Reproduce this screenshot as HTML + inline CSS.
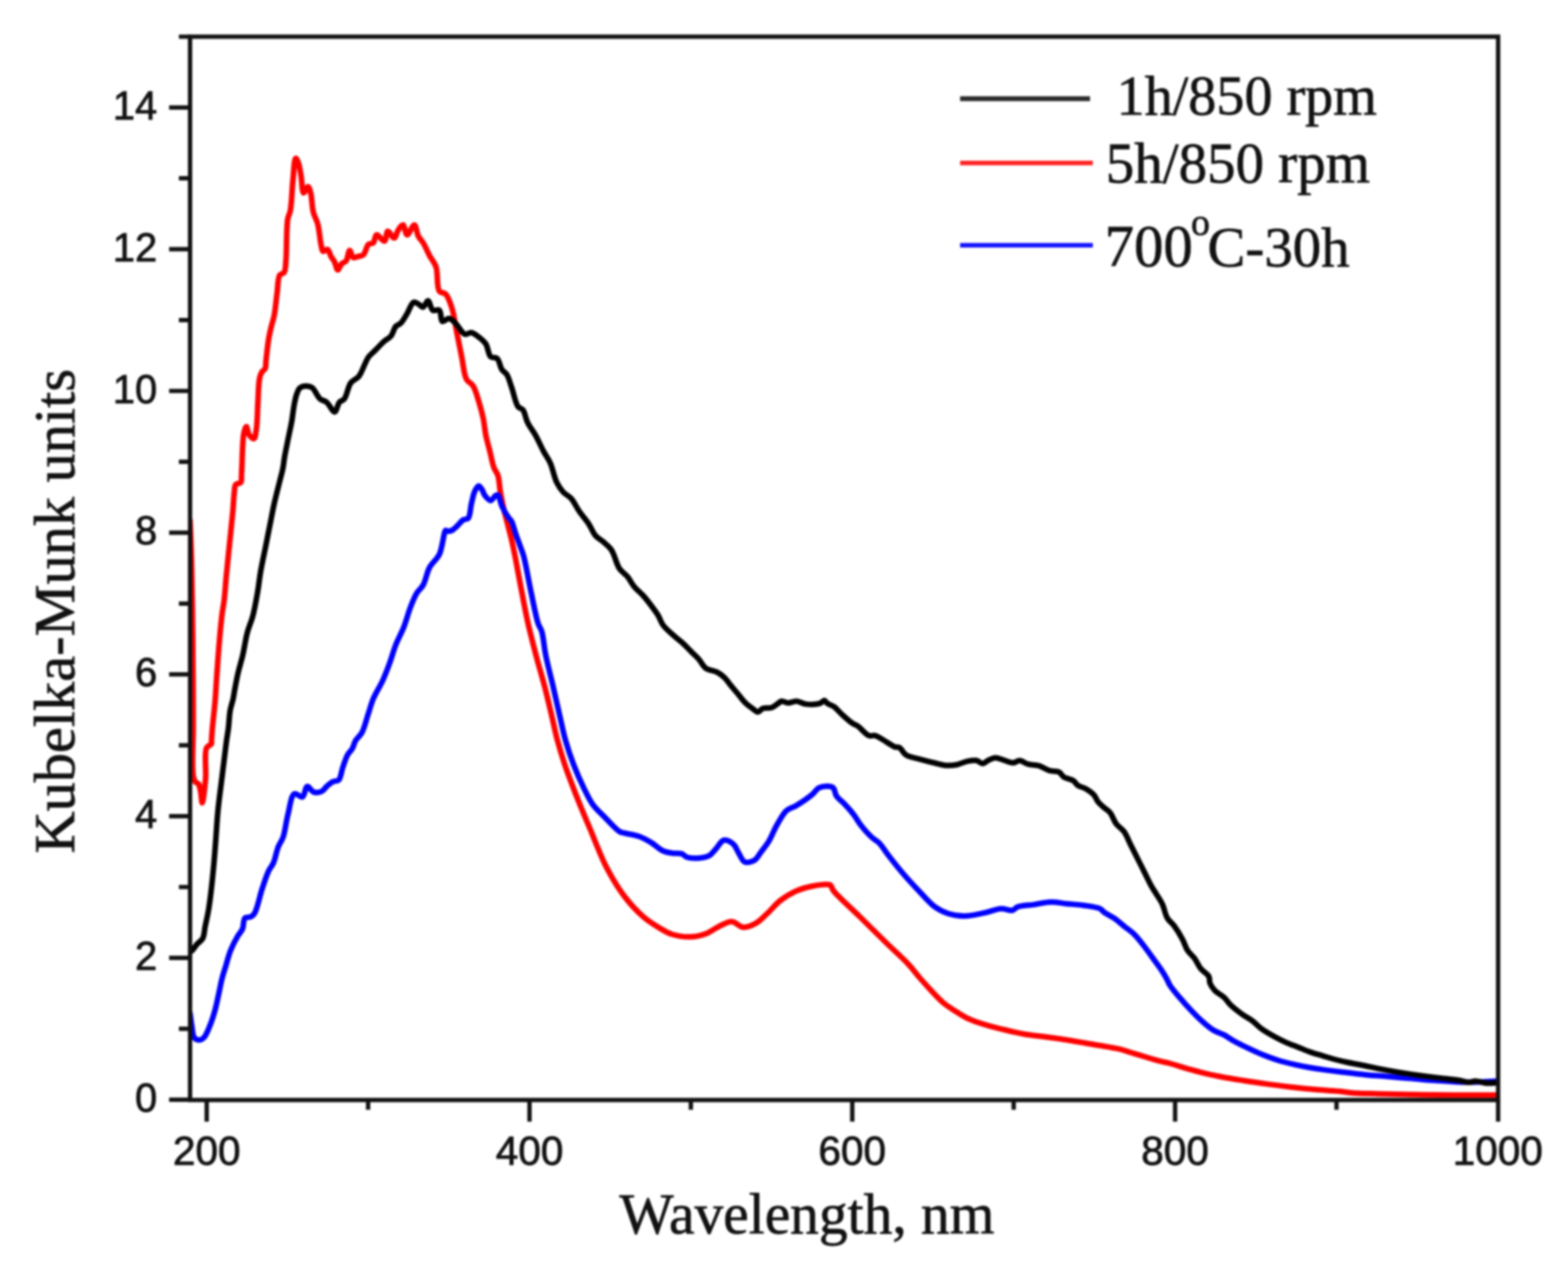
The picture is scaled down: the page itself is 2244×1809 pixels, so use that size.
<!DOCTYPE html>
<html><head><meta charset="utf-8"><title>Kubelka-Munk</title>
<style>html,body{margin:0;padding:0;background:#fff;}svg{display:block;filter:blur(1.4px);}</style></head>
<body><svg width="2244" height="1809" viewBox="0 0 2244 1809"><rect x="0" y="0" width="2244" height="1809" fill="#fff"/>
<defs><clipPath id="c"><rect x="271" y="52.5" width="1873" height="1521.8"/></clipPath></defs>
<g clip-path="url(#c)" fill="none" stroke-width="8.0" stroke-linejoin="round" stroke-linecap="round">
<path d="M272.0,745.0 C272.7,763.3 273.5,780.8 274.0,800.0 C274.6,821.0 274.9,841.2 275.3,866.0 C275.8,898.0 276.1,944.3 276.3,976.0 C276.4,1000.2 276.5,1018.2 276.5,1040.0 C276.5,1062.8 274.5,1097.8 276.5,1110.0 C277.2,1114.5 277.9,1117.0 279.5,1119.0 C280.7,1120.5 282.8,1120.4 284.0,1122.0 C285.6,1124.2 286.2,1128.2 287.0,1132.0 C288.1,1136.9 288.5,1149.0 289.4,1149.0 C290.7,1149.0 293.2,1126.7 294.2,1114.4 C295.4,1100.6 291.9,1077.6 295.6,1070.2 C297.3,1066.9 301.5,1066.6 302.5,1064.6 C303.2,1063.1 302.6,1062.0 302.7,1060.0 C302.9,1056.1 303.3,1049.6 303.9,1042.8 C304.8,1032.6 306.6,1017.5 307.7,1004.8 C308.8,992.1 309.3,980.3 310.3,966.7 C311.4,951.0 312.7,931.7 314.1,916.0 C315.3,902.4 316.6,888.3 317.9,878.0 C318.8,870.9 319.8,867.0 320.7,860.0 C321.9,850.3 322.7,836.4 323.8,825.1 C324.8,814.4 325.9,804.4 326.9,794.0 C328.0,783.6 329.0,773.3 330.1,762.9 C331.1,752.5 332.3,741.7 333.2,731.8 C334.0,722.8 334.3,712.9 335.2,705.9 C335.8,701.0 335.3,696.1 337.3,693.5 C338.9,691.5 343.2,692.4 344.6,690.4 C346.2,688.2 345.3,683.4 345.6,680.0 C345.8,676.6 345.9,674.6 346.1,670.0 C346.7,659.7 346.9,629.7 349.0,619.8 C349.9,615.4 351.3,610.6 352.5,610.6 C353.8,610.6 354.4,619.1 356.5,622.1 C358.3,624.6 361.7,628.4 363.4,627.8 C365.5,627.1 366.0,619.9 366.9,614.0 C368.4,604.1 368.4,586.4 369.2,573.7 C369.9,562.3 369.9,548.8 371.5,541.4 C372.4,537.3 373.4,534.6 374.9,532.2 C376.2,530.2 378.5,529.7 379.5,527.6 C380.8,524.8 380.2,520.8 380.7,516.1 C381.5,508.7 382.8,495.7 384.1,487.3 C385.1,480.8 386.2,475.9 387.6,470.0 C389.0,463.8 391.1,458.2 392.5,451.0 C394.2,442.0 395.1,429.9 396.5,420.0 C397.7,410.9 397.3,398.4 400.3,393.8 C401.9,391.4 405.1,392.2 406.6,390.0 C408.7,386.8 408.4,381.6 409.1,374.8 C410.5,361.3 409.6,326.6 411.7,314.0 C412.7,308.1 414.4,307.0 415.5,301.4 C417.5,291.2 417.9,270.4 419.3,257.0 C420.5,245.9 420.9,227.1 423.1,226.6 C424.2,226.4 425.8,230.2 426.9,232.9 C428.6,237.2 429.5,244.2 430.7,250.7 C432.1,258.4 432.1,275.4 434.5,276.0 C436.1,276.4 439.1,266.9 440.8,267.1 C442.4,267.3 443.5,272.1 444.6,276.0 C446.4,282.6 446.4,295.9 448.4,303.9 C450.0,310.2 453.0,313.9 454.7,320.4 C457.0,329.1 458.1,345.1 459.8,352.0 C460.7,355.4 460.8,358.9 462.4,359.6 C463.9,360.3 466.9,356.4 468.7,357.1 C471.0,358.0 472.0,364.1 473.8,367.2 C475.4,370.0 477.3,371.9 478.8,374.8 C480.5,378.1 481.5,386.0 483.3,386.2 C485.0,386.4 486.8,379.6 489.0,377.4 C490.9,375.6 493.6,375.7 495.3,373.6 C497.8,370.4 498.5,358.5 500.4,358.4 C502.0,358.3 503.1,367.4 505.4,368.5 C507.2,369.4 509.5,367.8 511.8,367.2 C514.4,366.5 517.7,366.7 520.0,364.7 C523.2,361.9 524.2,352.5 527.3,349.8 C529.3,348.0 532.4,349.2 534.2,347.5 C536.6,345.3 536.3,336.7 538.8,336.0 C541.5,335.3 547.6,345.8 550.3,345.0 C553.0,344.2 552.6,331.5 555.0,331.0 C557.3,330.5 561.5,340.9 564.0,340.6 C566.5,340.3 567.7,332.2 570.0,329.0 C572.0,326.2 574.9,321.6 576.8,322.0 C579.2,322.5 580.0,335.7 582.6,336.0 C585.3,336.3 590.3,321.6 593.0,322.0 C595.7,322.4 596.3,333.5 598.7,338.0 C600.7,341.7 603.3,343.7 605.6,347.5 C608.7,352.5 611.6,360.1 614.8,366.0 C617.8,371.6 621.7,375.4 624.0,382.0 C627.1,391.1 624.5,410.8 628.7,416.6 C631.0,419.7 635.3,418.3 637.9,421.0 C641.8,425.1 644.4,433.6 646.9,441.5 C650.0,451.4 651.5,464.5 653.8,476.0 C656.1,487.5 658.4,499.3 660.7,510.6 C663.0,521.6 663.7,535.8 667.6,542.9 C670.1,547.4 674.2,547.8 676.9,552.0 C680.8,558.0 683.5,569.1 686.0,577.4 C688.4,585.1 690.2,592.4 691.8,600.0 C693.3,607.6 693.8,615.4 695.3,623.0 C696.9,630.7 699.2,638.4 701.1,646.1 C703.0,653.8 704.5,662.9 706.8,669.1 C708.5,673.7 711.1,676.0 712.6,680.6 C714.6,686.8 714.7,696.0 716.0,703.7 C717.3,711.4 718.9,719.0 720.6,726.7 C722.3,734.4 724.5,742.1 726.4,749.8 C728.3,757.5 730.4,764.8 732.2,772.8 C734.2,781.5 735.9,789.7 737.9,800.0 C740.5,813.3 743.5,830.7 746.5,846.1 C749.5,861.5 752.3,876.9 755.7,892.2 C759.2,907.6 763.2,922.9 767.2,938.2 C771.2,953.6 776.1,969.4 779.9,984.3 C783.5,998.2 786.5,1011.7 789.6,1024.6 C792.4,1036.5 794.6,1047.6 797.6,1059.1 C800.7,1070.7 804.2,1082.2 808.0,1093.7 C811.9,1105.3 816.3,1116.7 820.7,1128.2 C825.1,1139.8 830.1,1152.0 834.5,1162.8 C838.5,1172.4 842.9,1182.5 846.0,1190.0 C848.2,1195.3 849.1,1198.0 851.5,1203.7 C855.4,1213.0 861.1,1228.2 867.6,1240.6 C874.7,1254.2 883.7,1269.7 893.0,1282.0 C901.5,1293.3 911.4,1304.0 920.6,1312.0 C928.3,1318.7 936.3,1323.6 943.7,1328.0 C950.0,1331.8 955.3,1335.2 962.1,1337.3 C969.7,1339.7 979.3,1341.0 987.5,1340.8 C995.4,1340.6 1003.4,1338.8 1010.5,1336.2 C1017.2,1333.7 1022.7,1328.7 1029.0,1325.8 C1035.0,1323.0 1041.5,1318.6 1047.4,1318.9 C1053.0,1319.2 1057.9,1326.5 1063.5,1327.0 C1069.3,1327.5 1076.3,1324.3 1081.9,1321.2 C1087.8,1317.9 1092.5,1312.4 1098.0,1307.4 C1104.1,1301.8 1109.6,1294.4 1116.5,1289.0 C1123.5,1283.6 1131.6,1278.6 1139.5,1275.1 C1147.0,1271.8 1154.8,1269.7 1162.6,1268.2 C1170.2,1266.7 1181.7,1265.5 1185.6,1265.9 C1187.0,1266.0 1187.5,1266.0 1188.4,1266.7 C1190.0,1268.0 1190.3,1271.5 1193.0,1275.0 C1199.2,1283.2 1217.4,1299.1 1230.0,1311.5 C1243.1,1324.4 1257.6,1338.9 1270.0,1351.0 C1280.7,1361.4 1291.7,1371.0 1300.0,1380.0 C1306.6,1387.1 1311.1,1393.5 1316.7,1400.0 C1322.2,1406.3 1327.8,1412.5 1333.4,1418.4 C1338.9,1424.2 1344.3,1430.3 1350.1,1435.2 C1355.5,1439.7 1361.2,1443.2 1366.9,1446.9 C1372.4,1450.5 1377.9,1454.1 1383.6,1456.9 C1389.1,1459.6 1394.7,1461.6 1400.3,1463.6 C1405.8,1465.5 1411.4,1467.1 1417.0,1468.6 C1422.5,1470.1 1428.1,1471.4 1433.7,1472.8 C1439.3,1474.2 1444.8,1475.6 1450.4,1476.9 C1456.0,1478.1 1460.6,1479.2 1467.1,1480.3 C1476.3,1481.8 1489.5,1483.0 1500.6,1484.5 C1511.8,1486.0 1522.9,1487.7 1534.0,1489.5 C1545.1,1491.3 1556.3,1493.4 1567.4,1495.3 C1578.6,1497.3 1590.6,1498.8 1600.9,1501.2 C1609.9,1503.3 1616.9,1506.0 1625.9,1508.7 C1636.4,1511.8 1651.0,1516.4 1660.0,1518.7 C1665.9,1520.2 1669.1,1520.5 1674.6,1522.0 C1682.0,1524.0 1691.8,1527.3 1700.5,1529.8 C1709.1,1532.2 1717.7,1534.7 1726.4,1536.7 C1735.0,1538.7 1743.7,1540.4 1752.3,1542.0 C1760.9,1543.6 1768.9,1544.8 1778.2,1546.2 C1788.9,1547.9 1801.3,1549.8 1812.8,1551.4 C1824.3,1553.0 1835.9,1554.4 1847.4,1555.7 C1858.9,1557.0 1870.4,1558.2 1881.9,1559.2 C1893.4,1560.2 1906.6,1560.8 1916.5,1561.8 C1924.0,1562.5 1928.6,1563.6 1936.2,1564.2 C1946.4,1565.0 1959.5,1565.0 1972.4,1565.4 C1987.3,1565.8 2003.7,1566.3 2020.7,1566.6 C2039.7,1566.9 2060.8,1567.1 2081.0,1567.2 C2101.3,1567.3 2121.7,1567.2 2142.0,1567.2" stroke="#f00"/>
<path d="M272.0,1450.3 C272.9,1456.5 273.6,1463.0 274.6,1469.0 C275.6,1474.6 275.5,1481.9 278.0,1485.0 C279.7,1487.2 282.7,1488.4 285.0,1488.4 C287.3,1488.4 289.7,1487.1 291.8,1485.0 C295.1,1481.7 298.0,1473.7 300.5,1467.6 C303.2,1461.1 305.4,1454.0 307.4,1446.9 C309.5,1439.6 310.9,1432.0 312.6,1424.4 C314.4,1416.5 315.9,1407.5 317.8,1400.2 C319.4,1393.9 321.1,1389.1 323.0,1383.0 C325.1,1376.0 327.0,1367.7 329.9,1360.5 C332.8,1353.3 336.9,1345.3 340.2,1339.7 C342.6,1335.6 345.4,1333.4 347.1,1329.4 C349.0,1324.9 347.9,1316.5 350.6,1313.8 C352.6,1311.8 356.8,1313.3 359.2,1312.0 C361.4,1310.8 362.7,1309.7 364.4,1306.9 C368.2,1300.7 371.6,1282.6 375.2,1271.9 C378.3,1262.7 381.2,1253.2 384.4,1246.5 C386.6,1241.8 389.2,1239.6 391.3,1235.0 C394.0,1228.8 395.6,1218.6 398.2,1212.0 C400.3,1206.7 403.2,1203.8 405.2,1198.0 C408.1,1189.7 409.3,1176.4 412.0,1166.0 C414.7,1155.8 416.4,1138.4 421.3,1136.0 C424.4,1134.5 429.8,1141.8 432.8,1140.6 C436.2,1139.2 436.7,1126.3 439.7,1125.6 C442.3,1125.0 445.5,1132.5 449.0,1133.6 C452.4,1134.7 457.4,1134.0 460.5,1132.5 C463.4,1131.1 464.8,1127.8 467.4,1125.6 C470.2,1123.2 473.5,1120.2 476.6,1118.7 C479.3,1117.4 482.6,1118.4 484.7,1116.4 C487.8,1113.4 488.3,1104.9 490.4,1099.0 C492.5,1092.9 494.6,1085.5 497.3,1080.6 C499.4,1076.8 502.3,1074.8 504.2,1071.4 C506.2,1067.9 506.7,1063.7 508.8,1060.0 C511.1,1056.0 515.3,1053.4 518.0,1048.4 C521.8,1041.4 524.4,1029.3 527.3,1020.7 C529.8,1013.3 531.2,1007.2 534.2,1000.0 C537.8,991.5 544.0,982.0 548.0,973.3 C551.6,965.4 554.2,958.3 557.2,950.2 C560.4,941.5 563.0,931.5 566.5,922.6 C569.9,913.9 574.6,905.9 578.0,897.2 C581.5,888.3 583.9,878.1 587.2,869.6 C590.1,862.1 592.9,854.5 596.4,848.8 C599.2,844.2 602.9,842.2 605.6,837.3 C609.3,830.7 610.7,819.5 614.8,812.0 C618.6,805.0 625.0,801.0 628.7,793.5 C633.3,784.1 635.1,760.2 637.9,759.0 C638.6,758.7 639.1,759.9 640.0,760.1 C641.6,760.4 644.7,760.0 646.9,759.0 C649.4,757.9 651.4,755.4 653.8,753.2 C656.7,750.5 659.9,745.9 663.0,744.0 C665.3,742.6 668.2,743.7 670.0,741.7 C673.1,738.3 673.0,727.6 674.6,721.0 C676.1,715.0 677.1,708.2 679.2,703.7 C680.8,700.3 683.0,695.8 684.9,695.6 C686.4,695.5 688.1,698.3 689.5,700.2 C691.3,702.6 692.0,706.7 694.1,709.4 C696.2,712.1 699.7,716.5 702.2,716.4 C704.6,716.3 707.0,710.7 709.1,709.4 C710.4,708.6 711.5,707.8 712.6,708.3 C714.9,709.5 715.9,719.1 718.3,724.4 C720.8,729.9 724.9,736.7 727.6,740.6 C729.3,743.1 730.8,743.7 732.2,746.3 C734.4,750.4 736.0,758.0 737.9,763.6 C739.8,769.1 741.8,774.3 743.7,779.7 C745.6,785.1 747.5,788.9 749.4,795.9 C752.7,807.9 756.2,829.7 759.7,846.1 C763.1,861.8 766.7,882.1 770.1,892.2 C771.9,897.4 773.8,898.7 775.3,903.7 C777.8,912.0 778.6,925.9 781.1,938.2 C784.0,952.5 788.6,969.4 792.0,984.3 C795.2,998.2 798.1,1011.7 801.1,1024.6 C803.9,1036.6 806.0,1047.7 809.2,1059.1 C812.5,1070.7 816.3,1082.3 820.7,1093.7 C825.1,1105.3 830.7,1117.9 835.7,1128.2 C839.9,1136.8 843.3,1144.4 848.3,1151.3 C853.0,1157.8 858.6,1162.6 864.5,1168.6 C871.2,1175.4 880.9,1186.7 886.4,1190.0 C889.0,1191.6 890.2,1191.4 893.0,1192.2 C898.0,1193.6 907.1,1194.5 913.7,1196.8 C920.2,1199.1 926.4,1202.5 932.2,1206.0 C937.9,1209.4 942.9,1215.0 948.3,1217.5 C952.9,1219.6 957.5,1220.3 962.1,1221.0 C966.7,1221.7 972.3,1220.7 976.0,1222.0 C978.9,1223.0 979.9,1225.7 982.9,1226.7 C987.4,1228.3 995.6,1228.4 1001.3,1227.9 C1006.3,1227.4 1011.2,1226.6 1015.1,1224.4 C1018.8,1222.3 1021.1,1218.6 1024.3,1215.2 C1028.0,1211.3 1031.5,1203.5 1035.9,1202.5 C1040.0,1201.6 1046.2,1205.3 1049.7,1208.3 C1053.0,1211.2 1054.1,1215.8 1056.6,1219.8 C1059.4,1224.2 1061.7,1231.8 1065.8,1233.6 C1069.5,1235.2 1075.8,1233.5 1079.6,1231.3 C1083.5,1229.0 1085.6,1224.0 1088.8,1219.8 C1092.5,1214.9 1096.8,1209.7 1100.4,1203.7 C1104.5,1196.8 1107.6,1187.9 1111.9,1180.6 C1116.1,1173.4 1120.4,1164.7 1125.7,1160.0 C1129.9,1156.3 1134.4,1156.0 1139.5,1153.0 C1146.3,1148.9 1156.8,1141.8 1162.6,1136.9 C1166.6,1133.6 1168.1,1129.5 1171.8,1127.6 C1175.7,1125.6 1181.8,1125.0 1185.6,1125.3 C1188.3,1125.5 1190.7,1125.9 1192.5,1127.6 C1194.9,1129.8 1194.7,1135.6 1197.1,1139.2 C1199.8,1143.3 1204.8,1146.5 1208.7,1150.7 C1213.2,1155.5 1218.5,1161.5 1222.5,1166.8 C1226.0,1171.5 1228.0,1175.8 1231.7,1180.6 C1236.2,1186.4 1243.3,1194.4 1248.3,1198.9 C1251.7,1202.0 1254.6,1202.8 1257.8,1206.0 C1262.4,1210.6 1266.9,1218.3 1272.0,1224.9 C1277.8,1232.4 1284.1,1240.5 1290.9,1248.5 C1298.2,1257.1 1306.5,1266.1 1314.5,1274.5 C1322.3,1282.7 1330.2,1292.4 1338.1,1298.1 C1344.4,1302.6 1350.2,1305.4 1357.0,1307.5 C1364.3,1309.8 1372.4,1311.1 1380.6,1311.0 C1389.6,1310.9 1400.0,1308.2 1409.0,1306.4 C1417.3,1304.7 1425.4,1300.9 1432.6,1300.5 C1438.6,1300.2 1444.9,1303.8 1449.1,1302.8 C1452.1,1302.1 1453.0,1299.3 1456.2,1298.0 C1461.6,1295.9 1471.9,1295.8 1479.8,1294.6 C1487.7,1293.4 1495.5,1291.2 1503.4,1291.0 C1511.3,1290.8 1519.1,1292.6 1527.0,1293.4 C1534.9,1294.2 1542.8,1294.5 1550.7,1295.7 C1558.6,1296.9 1569.3,1298.0 1574.3,1300.5 C1577.1,1301.9 1577.6,1303.7 1580.0,1305.5 C1583.6,1308.1 1589.7,1310.8 1594.4,1314.1 C1599.3,1317.5 1604.0,1321.8 1608.8,1325.6 C1613.6,1329.4 1618.6,1332.6 1623.2,1337.1 C1628.3,1342.1 1633.2,1348.7 1637.6,1354.4 C1641.7,1359.7 1645.3,1364.9 1649.1,1370.2 C1652.9,1375.5 1657.1,1380.9 1660.6,1386.1 C1663.8,1390.8 1666.7,1395.5 1669.2,1399.9 C1671.3,1403.6 1672.1,1406.7 1674.6,1410.6 C1678.0,1415.8 1683.6,1422.2 1688.4,1427.9 C1693.3,1433.7 1698.6,1439.7 1703.9,1445.2 C1709.0,1450.6 1714.0,1455.8 1719.5,1460.7 C1725.0,1465.6 1731.0,1471.0 1736.8,1474.5 C1741.9,1477.6 1747.4,1478.8 1752.3,1481.4 C1757.1,1484.0 1761.0,1487.1 1766.1,1490.0 C1772.3,1493.4 1780.1,1497.2 1786.9,1500.4 C1793.3,1503.5 1799.1,1506.3 1805.9,1509.0 C1813.4,1512.0 1821.9,1515.2 1830.0,1517.7 C1838.0,1520.1 1846.5,1522.0 1854.3,1523.8 C1861.5,1525.4 1867.8,1526.7 1875.0,1528.0 C1882.7,1529.4 1891.4,1530.5 1899.2,1531.6 C1906.4,1532.6 1912.1,1533.3 1919.9,1534.2 C1929.9,1535.4 1943.2,1537.1 1954.3,1538.2 C1964.7,1539.2 1974.0,1539.7 1984.5,1540.6 C1996.0,1541.5 2008.6,1542.6 2020.7,1543.6 C2032.8,1544.6 2045.4,1545.8 2056.9,1546.6 C2067.4,1547.4 2077.0,1548.2 2087.1,1548.5 C2097.2,1548.8 2107.7,1548.7 2117.3,1548.5 C2125.9,1548.3 2133.8,1547.7 2142.0,1547.3" stroke="#00f"/>
<path d="M273.0,1362.0 C274.1,1360.9 275.1,1360.1 276.3,1358.8 C277.9,1357.0 279.4,1354.2 281.5,1351.8 C283.9,1349.0 288.1,1346.9 290.1,1343.2 C292.5,1338.7 292.3,1332.3 293.6,1326.0 C295.2,1318.2 297.2,1310.2 298.8,1300.0 C301.1,1285.8 303.3,1265.0 304.9,1248.8 C306.4,1234.3 307.3,1221.6 308.4,1207.4 C309.6,1192.4 310.4,1176.0 311.8,1161.3 C313.1,1147.7 314.8,1135.6 316.5,1122.0 C318.3,1107.3 320.8,1087.4 322.2,1076.0 C323.0,1069.3 323.5,1065.4 324.2,1060.0 C325.0,1054.4 326.0,1049.1 326.8,1042.8 C327.8,1035.2 328.0,1025.0 329.3,1017.4 C330.4,1011.0 332.5,1005.5 333.7,1000.0 C334.7,995.1 335.1,991.4 336.1,986.1 C337.4,979.1 339.1,969.9 341.0,961.9 C342.9,953.8 345.4,946.4 347.4,937.7 C349.7,927.8 351.3,915.4 353.9,905.5 C356.2,896.8 359.6,890.0 361.9,881.3 C364.5,871.4 366.5,859.8 368.4,849.0 C370.3,838.3 371.3,827.5 373.2,816.8 C375.1,806.0 377.5,795.3 379.7,784.5 C381.8,773.8 384.0,763.0 386.1,752.3 C388.3,741.5 390.2,730.7 392.6,720.0 C395.0,709.2 398.3,696.8 400.6,687.6 C402.3,680.8 403.8,675.7 404.9,670.0 C405.9,664.6 406.3,659.6 407.2,654.3 C408.2,648.7 409.4,642.8 410.6,637.0 C411.7,631.3 412.9,625.5 414.1,619.8 C415.3,614.0 416.5,608.7 417.6,602.5 C418.8,595.4 419.7,586.2 421.0,579.4 C422.1,573.9 422.9,568.8 424.5,564.5 C425.8,561.0 426.8,557.3 429.1,555.3 C431.2,553.5 434.5,552.6 437.4,552.5 C440.4,552.4 443.7,552.8 446.6,554.8 C450.8,557.7 454.1,567.5 458.2,571.0 C461.1,573.5 464.4,573.2 467.4,575.6 C471.4,578.7 475.8,589.8 478.9,589.4 C481.8,589.1 483.0,578.8 485.8,575.6 C487.8,573.3 490.6,573.6 492.7,571.0 C496.4,566.5 497.8,553.6 502.0,548.0 C505.2,543.7 510.2,542.8 513.5,538.7 C517.4,533.9 520.1,525.1 522.7,520.0 C524.5,516.4 525.2,513.9 527.3,511.0 C529.7,507.8 533.1,505.2 536.5,501.8 C540.6,497.7 546.0,491.7 550.3,488.0 C553.6,485.1 556.9,484.1 559.5,481.0 C562.5,477.4 563.7,470.1 566.5,467.0 C568.5,464.8 571.2,464.9 573.4,462.7 C576.6,459.6 579.6,453.7 582.6,448.8 C585.8,443.7 588.4,434.0 591.8,432.7 C594.0,431.9 596.5,433.9 598.7,435.0 C601.1,436.2 603.5,440.0 605.6,439.6 C608.1,439.2 610.3,430.2 612.5,430.4 C615.0,430.6 616.2,442.0 619.4,444.0 C621.9,445.6 626.4,442.3 628.7,444.0 C631.7,446.3 630.4,458.7 633.3,460.0 C635.5,461.0 639.5,455.5 642.5,455.8 C645.6,456.1 648.4,459.3 651.5,462.2 C655.8,466.2 660.7,476.8 665.3,478.3 C668.4,479.3 671.4,475.5 674.6,476.0 C678.3,476.6 682.5,480.3 686.0,483.0 C689.4,485.7 692.7,488.3 695.3,492.2 C698.4,497.0 698.7,507.4 702.2,510.6 C704.7,512.8 708.9,510.9 711.4,513.0 C714.8,515.9 715.5,524.9 718.3,529.0 C720.4,532.1 723.3,532.8 725.3,536.0 C728.2,540.5 729.8,547.6 732.2,554.4 C735.1,562.6 737.5,576.9 741.4,582.0 C743.5,584.7 746.3,584.1 748.3,586.6 C751.4,590.4 752.2,599.0 755.2,605.0 C758.3,611.3 763.0,616.9 766.7,623.5 C770.7,630.7 774.5,639.6 778.2,646.5 C781.4,652.4 784.7,656.4 787.5,662.7 C791.0,670.5 793.1,682.9 796.7,690.3 C799.4,695.9 802.3,700.2 805.9,704.1 C809.3,707.8 813.9,709.4 817.4,713.4 C821.7,718.2 824.8,725.7 829.0,731.8 C833.3,738.0 838.8,744.1 842.8,750.2 C846.4,755.7 848.3,762.0 852.0,766.4 C855.3,770.3 859.8,772.3 863.5,775.6 C867.4,779.1 871.6,782.0 875.0,787.0 C879.6,793.7 881.9,807.0 886.5,813.8 C889.9,818.8 894.6,821.1 898.0,825.3 C901.5,829.6 903.7,834.7 907.3,839.2 C911.2,844.0 917.0,848.5 921.0,853.0 C924.5,856.9 927.1,860.3 930.3,864.5 C934.0,869.4 938.6,875.3 941.8,880.6 C944.6,885.3 945.6,890.1 948.8,894.5 C952.4,899.4 957.9,904.0 962.6,908.3 C967.1,912.4 971.9,915.7 976.4,919.8 C981.1,924.1 986.0,929.4 990.2,933.6 C993.7,937.1 996.8,939.7 1000.0,943.3 C1003.5,947.3 1005.9,953.5 1010.2,956.6 C1014.4,959.6 1021.0,959.5 1025.5,961.7 C1029.4,963.7 1032.6,965.8 1035.8,968.8 C1039.5,972.1 1042.6,977.0 1046.0,981.1 C1049.4,985.2 1052.8,989.2 1056.2,993.3 C1059.6,997.4 1062.8,1002.1 1066.4,1005.6 C1069.6,1008.8 1073.3,1011.5 1076.6,1013.8 C1079.4,1015.8 1082.2,1019.0 1084.8,1018.9 C1087.3,1018.8 1089.0,1014.9 1091.9,1013.8 C1095.3,1012.5 1100.6,1013.9 1104.2,1012.7 C1107.4,1011.6 1109.9,1009.2 1112.4,1007.6 C1114.6,1006.2 1116.2,1003.9 1118.5,1003.5 C1121.2,1003.1 1124.4,1006.0 1127.7,1006.1 C1131.5,1006.2 1135.8,1003.3 1139.9,1003.5 C1144.3,1003.7 1148.2,1007.0 1153.2,1007.6 C1159.2,1008.4 1168.9,1008.1 1173.6,1006.6 C1176.4,1005.7 1178.0,1002.3 1179.8,1002.5 C1181.4,1002.7 1182.1,1005.3 1183.9,1006.6 C1186.4,1008.4 1190.9,1009.4 1194.1,1011.7 C1197.7,1014.3 1200.5,1018.4 1204.3,1021.9 C1208.9,1026.1 1215.6,1032.3 1220.0,1035.2 C1222.8,1037.1 1224.6,1037.1 1227.4,1039.0 C1231.9,1042.0 1238.6,1051.0 1243.5,1052.8 C1246.8,1054.0 1249.3,1051.9 1252.7,1052.8 C1257.5,1054.1 1263.9,1059.1 1268.8,1062.0 C1273.0,1064.4 1276.9,1067.6 1280.4,1068.9 C1282.9,1069.8 1285.1,1068.8 1287.3,1070.0 C1290.5,1071.7 1292.2,1077.7 1296.5,1080.4 C1302.1,1084.0 1312.2,1085.3 1319.5,1087.3 C1326.0,1089.1 1332.0,1090.6 1338.0,1092.0 C1343.5,1093.3 1348.7,1095.0 1354.1,1095.4 C1359.4,1095.8 1365.1,1095.2 1370.2,1094.2 C1375.0,1093.2 1379.3,1090.5 1384.0,1089.6 C1388.6,1088.7 1395.3,1088.0 1397.9,1088.5 C1399.0,1088.7 1399.1,1089.1 1400.0,1089.6 C1401.5,1090.4 1403.9,1092.7 1406.1,1092.7 C1408.9,1092.7 1412.2,1089.0 1415.3,1087.6 C1418.3,1086.3 1421.3,1084.6 1424.5,1084.5 C1428.1,1084.4 1431.8,1086.5 1435.8,1087.6 C1440.3,1088.9 1445.8,1091.8 1450.0,1091.7 C1453.4,1091.6 1455.9,1088.5 1459.2,1088.6 C1463.0,1088.7 1467.1,1092.5 1471.5,1093.7 C1476.2,1095.0 1481.8,1094.3 1486.8,1095.8 C1492.0,1097.3 1497.1,1101.4 1502.1,1102.9 C1506.6,1104.2 1511.9,1103.1 1515.4,1104.9 C1518.5,1106.5 1519.6,1110.1 1522.6,1112.1 C1526.2,1114.4 1532.3,1114.9 1535.9,1117.2 C1538.9,1119.2 1540.2,1122.5 1543.0,1124.4 C1545.9,1126.3 1549.8,1126.5 1553.2,1128.4 C1557.3,1130.7 1562.4,1134.1 1565.5,1137.6 C1568.3,1140.7 1569.2,1144.8 1571.6,1147.8 C1574.0,1150.8 1577.1,1153.2 1580.0,1155.8 C1582.8,1158.3 1586.0,1159.8 1588.6,1163.0 C1591.9,1167.0 1593.8,1174.2 1597.3,1178.8 C1600.6,1183.2 1605.5,1185.8 1608.8,1190.3 C1612.4,1195.2 1614.4,1201.6 1617.4,1207.6 C1620.6,1214.1 1624.1,1221.0 1627.5,1227.7 C1630.9,1234.4 1634.2,1241.2 1637.6,1247.9 C1641.0,1254.6 1644.5,1262.3 1647.7,1268.0 C1650.2,1272.5 1652.4,1275.5 1654.9,1279.6 C1657.7,1284.1 1661.0,1288.7 1663.5,1294.0 C1666.3,1300.0 1667.4,1308.6 1670.7,1314.1 C1673.5,1318.8 1677.5,1321.1 1680.8,1325.6 C1684.7,1330.9 1689.1,1338.2 1692.3,1344.3 C1695.2,1349.7 1696.5,1355.5 1699.5,1360.2 C1702.3,1364.6 1706.5,1367.5 1709.6,1371.7 C1712.8,1376.1 1714.8,1381.8 1718.2,1386.1 C1721.6,1390.4 1727.9,1393.6 1730.0,1397.6 C1731.6,1400.7 1730.4,1404.0 1731.6,1407.1 C1733.0,1410.6 1735.5,1414.3 1738.5,1417.5 C1742.1,1421.3 1748.4,1424.2 1752.3,1427.9 C1755.7,1431.2 1757.4,1434.7 1761.0,1438.2 C1765.6,1442.7 1772.7,1448.1 1778.2,1452.0 C1783.0,1455.4 1787.5,1457.4 1792.0,1460.7 C1796.8,1464.2 1800.8,1469.1 1805.9,1472.8 C1811.2,1476.7 1817.4,1480.0 1823.2,1483.2 C1828.9,1486.3 1834.6,1489.2 1840.4,1491.8 C1846.1,1494.4 1851.9,1496.4 1857.7,1498.7 C1863.5,1501.0 1869.2,1503.6 1875.0,1505.6 C1880.7,1507.6 1886.5,1509.1 1892.3,1510.8 C1898.1,1512.5 1904.1,1514.5 1909.6,1516.0 C1914.6,1517.4 1918.4,1518.2 1924.1,1519.5 C1932.3,1521.3 1944.2,1523.5 1954.3,1525.5 C1964.4,1527.5 1974.0,1529.7 1984.5,1531.6 C1996.0,1533.7 2008.6,1535.8 2020.7,1537.6 C2032.8,1539.4 2045.4,1540.9 2056.9,1542.4 C2067.4,1543.7 2078.7,1544.7 2087.1,1546.0 C2093.2,1546.9 2098.4,1549.0 2102.8,1549.0 C2106.0,1549.0 2107.9,1547.4 2111.2,1547.3 C2116.1,1547.2 2123.8,1550.0 2129.3,1550.3 C2133.9,1550.6 2137.8,1549.9 2142.0,1549.7" stroke="#000"/>
</g>
<rect x="272" y="52.5" width="1872" height="1521.8" fill="none" stroke="#111" stroke-width="6.2"/>
<path d="M242,1573.8 H272 M256,1472.4 H272 M242,1370.9 H272 M256,1269.5 H272 M242,1168.1 H272 M256,1066.6 H272 M242,965.2 H272 M256,863.8 H272 M242,762.4 H272 M256,660.9 H272 M242,559.5 H272 M256,458.1 H272 M242,356.6 H272 M256,255.2 H272 M242,153.8 H272 M256,52.5 H272 M295.8,1574.3 V1605.3 M526.8,1574.3 V1588.3 M757.8,1574.3 V1605.3 M988.7,1574.3 V1588.3 M1219.7,1574.3 V1605.3 M1450.7,1574.3 V1588.3 M1681.7,1574.3 V1605.3 M1912.7,1574.3 V1588.3 M2144.0,1574.3 V1605.3" stroke="#111" stroke-width="6.2" fill="none"/>
<g font-family="Liberation Sans, Arial, sans-serif" stroke="#111" stroke-width="1.1" font-size="57" fill="#111"><text x="225" y="1590.8" text-anchor="end">0</text><text x="225" y="1387.9" text-anchor="end">2</text><text x="225" y="1185.1" text-anchor="end">4</text><text x="225" y="982.2" text-anchor="end">6</text><text x="225" y="779.4" text-anchor="end">8</text><text x="225" y="576.5" text-anchor="end">10</text><text x="225" y="373.6" text-anchor="end">12</text><text x="225" y="170.8" text-anchor="end">14</text></g>
<g font-family="Liberation Sans, Arial, sans-serif" stroke="#111" stroke-width="1.1" font-size="58" fill="#111"><text x="295.8" y="1666.5" text-anchor="middle">200</text><text x="757.8" y="1666.5" text-anchor="middle">400</text><text x="1219.7" y="1666.5" text-anchor="middle">600</text><text x="1681.7" y="1666.5" text-anchor="middle">800</text><text x="2143.6" y="1666.5" text-anchor="middle">1000</text></g>
<text font-family="Liberation Serif, Times New Roman, serif" stroke="#111" stroke-width="0.9" font-size="82.2" fill="#111" x="886.5" y="1765">Wavelength, nm</text>
<text font-family="Liberation Serif, Times New Roman, serif" stroke="#111" stroke-width="0.9" font-size="83.5" fill="#111" transform="translate(105.6,1219) rotate(-90)" x="-2.5" y="0">Kubelka-Munk units</text>
<path d="M1374,141.3 H1560" stroke="#2b2b2b" stroke-width="7"/>
<path d="M1374,233.3 H1564" stroke="#f22" stroke-width="6.5"/>
<path d="M1374,351 H1564" stroke="#11f" stroke-width="6.5"/>
<text font-family="Liberation Serif, Times New Roman, serif" stroke="#111" stroke-width="0.9" font-size="80.3" fill="#111" x="1598" y="163.7">1h/850 rpm</text>
<text font-family="Liberation Serif, Times New Roman, serif" stroke="#111" stroke-width="0.9" font-size="81.5" fill="#111" x="1582.5" y="260.8">5h/850 rpm</text>
<text font-family="Liberation Serif, Times New Roman, serif" stroke="#111" stroke-width="0.9" font-size="84" fill="#111" x="1581" y="380.9">700<tspan font-size="54" x="1704.5" y="336">o</tspan><tspan x="1728" y="380.9" font-size="81.4">C-30h</tspan></text></svg></body></html>
